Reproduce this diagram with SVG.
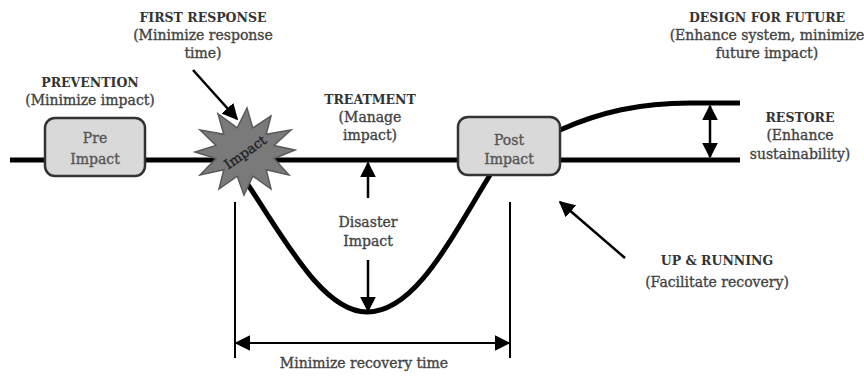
<svg xmlns="http://www.w3.org/2000/svg" width="864" height="376" viewBox="0 0 864 376">
<defs>
<style>
.h{font-family:"DejaVu Serif","Liberation Serif",serif;font-weight:bold;font-size:12.5px;fill:#333;text-anchor:middle}
.t{font-family:"DejaVu Serif","Liberation Serif",serif;font-size:14px;fill:#444;stroke:#444;stroke-width:0.35;text-anchor:middle}
.g{fill:#555;stroke:#555}
.box{fill:#d9d9d9;stroke:#333;stroke-width:2.5}
.thick{fill:none;stroke:#000;stroke-width:5}
.arr{fill:none;stroke:#000;stroke-width:2.5}
.dim{fill:none;stroke:#000;stroke-width:2}
</style>
<marker id="ah" viewBox="0 0 10 10" refX="9" refY="5" markerWidth="16" markerHeight="16" markerUnits="userSpaceOnUse" orient="auto-start-reverse">
<path d="M0,0 L10,5 L0,10 z" fill="#000"/>
</marker>
</defs>
<g id="connectors">
<line class="thick" x1="10" y1="160" x2="740" y2="160"/>
<path class="thick" d="M 560,130 C 600,112 640,103 690,103 L 740,103"/>
<path class="thick" d="M 238,170 C 280,230 320,312 367,312 C 415,312 450,240 490,175"/>
<line class="arr" x1="193" y1="70" x2="237" y2="119" marker-end="url(#ah)"/>
<line class="arr" x1="710" y1="106" x2="710" y2="157" marker-start="url(#ah)" marker-end="url(#ah)"/>
<line class="arr" x1="368" y1="198" x2="368" y2="163" marker-end="url(#ah)"/>
<line class="arr" x1="368" y1="260" x2="368" y2="311" marker-end="url(#ah)"/>
<line class="arr" x1="625" y1="258" x2="560" y2="202" marker-end="url(#ah)"/>
<line class="dim" x1="235" y1="202" x2="235" y2="358"/>
<line class="dim" x1="510" y1="202" x2="510" y2="358"/>
<line class="dim" x1="236" y1="343" x2="509" y2="343" marker-start="url(#ah)" marker-end="url(#ah)"/>
</g>
<g id="pre-impact">
<rect class="box" x="45" y="118" width="100" height="58" rx="10"/>
<text class="t g" x="95" y="143">Pre</text>
<text class="t g" x="95" y="164">Impact</text>
</g>
<g id="impact">
<polygon points="295,150 274,158.5 289,175 266.2,169.7 271,189 252.8,176.1 244,195 237.2,176.1 219,189 223.8,169.7 200,175 216,158.5 195,152 216,145.5 200,130 223.8,134.3 218,114 237.2,127.9 247,108 252.8,127.9 271,116 266.2,134.3 291,130 274,145.5" fill="#7a7a7a" stroke="#5a5a5a" stroke-width="1.5"/>
<text class="t" x="245" y="157" transform="rotate(-35 245 152)" style="fill:#222;stroke:#222;font-size:13.5px">Impact</text>
</g>
<g id="post-impact">
<rect class="box" x="458" y="117" width="102" height="58" rx="10"/>
<text class="t g" x="509" y="145">Post</text>
<text class="t g" x="509" y="164">Impact</text>
</g>
<g id="labels">
<text class="h" x="203" y="22">FIRST RESPONSE</text>
<text class="t" x="203" y="40">(Minimize response</text>
<text class="t" x="203" y="58">time)</text>
<text class="h" x="90" y="87">PREVENTION</text>
<text class="t" x="90" y="105">(Minimize impact)</text>
<text class="h" x="370" y="104">TREATMENT</text>
<text class="t" x="370" y="122">(Manage</text>
<text class="t" x="370" y="140">impact)</text>
<text class="h" x="767" y="22">DESIGN FOR FUTURE</text>
<text class="t" x="767" y="40">(Enhance system, minimize</text>
<text class="t" x="767" y="58">future impact)</text>
<text class="h" x="800" y="122">RESTORE</text>
<text class="t" x="800" y="140">(Enhance</text>
<text class="t" x="800" y="159">sustainability)</text>
<text class="t" x="368" y="227">Disaster</text>
<text class="t" x="368" y="246">Impact</text>
<text class="h" x="717" y="265">UP &amp; RUNNING</text>
<text class="t" x="717" y="287">(Facilitate recovery)</text>
<text class="t" x="364" y="368">Minimize recovery time</text>
</g>
</svg>
